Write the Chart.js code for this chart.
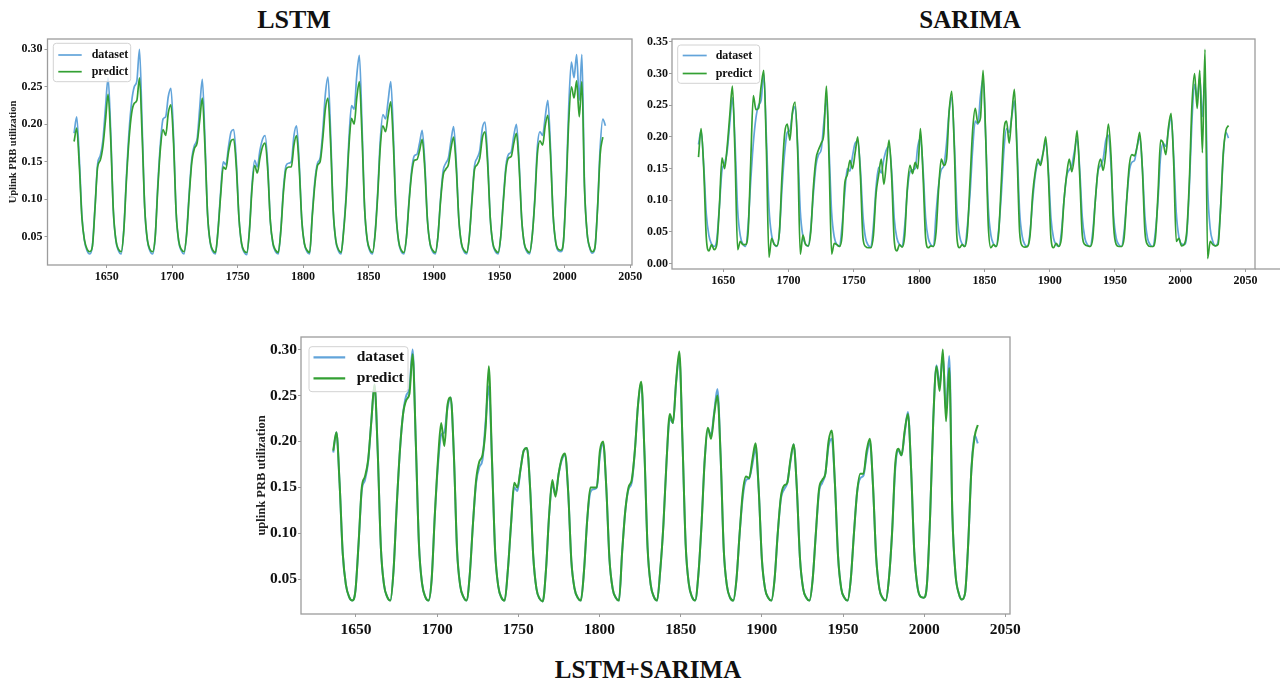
<!DOCTYPE html>
<html>
<head>
<meta charset="utf-8">
<script src="https://cdn.jsdelivr.net/npm/chart.js@4.4.1/dist/chart.umd.min.js"></script>
<style>
  body { margin: 0; width: 1280px; height: 684px; background: #fff; position: relative; overflow: hidden; }
  canvas { position: absolute; }
  .caption { position: absolute; font-family: "Liberation Serif", "Times New Roman", serif; font-weight: bold;
             font-size: 25px; line-height: 25px; color: #111; transform: translateX(-50%); white-space: nowrap; }
</style>
</head>
<body>
<div class="caption" style="left:294px; top:7px; font-size:26px">LSTM</div>
<div class="caption" style="left:970px; top:7px">SARIMA</div>
<div class="caption" style="left:648px; top:657px">LSTM+SARIMA</div>

<canvas id="lstmChart" width="645" height="262" style="left:0; top:30px"></canvas>
<canvas id="sarimaChart" width="640" height="262" style="left:640px; top:30px"></canvas>
<canvas id="hybridChart" width="790" height="330" style="left:240px; top:330px"></canvas>

<script>
// measured uplink PRB utilization, one sample every second hour of the test window
const trafficLoad = [
  0.188, 0.210, 0.155, 0.078, 0.044, 0.031, 0.027,
  0.038, 0.090, 0.147, 0.158, 0.178, 0.222, 0.262, 0.190, 0.085, 0.044, 0.031, 0.027,
  0.060, 0.130, 0.190, 0.230, 0.250, 0.258, 0.300, 0.200, 0.088, 0.045, 0.031, 0.027,
  0.050, 0.120, 0.175, 0.207, 0.210, 0.237, 0.248, 0.185, 0.082, 0.043, 0.031, 0.027,
  0.055, 0.110, 0.155, 0.172, 0.180, 0.222, 0.260, 0.180, 0.080, 0.042, 0.030, 0.027,
  0.060, 0.110, 0.150, 0.146, 0.170, 0.190, 0.193, 0.150, 0.075, 0.040, 0.029, 0.026,
  0.060, 0.120, 0.152, 0.143, 0.165, 0.180, 0.185, 0.145, 0.070, 0.040, 0.030, 0.027,
  0.060, 0.115, 0.145, 0.148, 0.150, 0.185, 0.198, 0.150, 0.072, 0.040, 0.030, 0.027,
  0.080, 0.125, 0.148, 0.155, 0.190, 0.240, 0.263, 0.190, 0.085, 0.044, 0.031, 0.027,
  0.060, 0.110, 0.180, 0.225, 0.220, 0.265, 0.292, 0.200, 0.088, 0.045, 0.031, 0.027,
  0.055, 0.110, 0.180, 0.213, 0.207, 0.232, 0.257, 0.185, 0.082, 0.043, 0.030, 0.027,
  0.050, 0.100, 0.140, 0.158, 0.160, 0.175, 0.192, 0.148, 0.072, 0.040, 0.030, 0.027,
  0.050, 0.100, 0.138, 0.148, 0.155, 0.178, 0.197, 0.150, 0.073, 0.040, 0.030, 0.027,
  0.050, 0.100, 0.145, 0.155, 0.165, 0.195, 0.203, 0.155, 0.075, 0.040, 0.030, 0.027,
  0.050, 0.100, 0.145, 0.160, 0.163, 0.185, 0.200, 0.152, 0.074, 0.040, 0.030, 0.027,
  0.050, 0.100, 0.170, 0.190, 0.185, 0.210, 0.232, 0.170, 0.080, 0.042, 0.031, 0.030,
  0.045, 0.120, 0.225, 0.283, 0.262, 0.293, 0.232, 0.293, 0.120, 0.055, 0.035, 0.028,
  0.035, 0.090, 0.170, 0.207, 0.198
];

const lstmForecast = [
  0.177, 0.195, 0.145, 0.075, 0.045, 0.033, 0.030,
  0.037, 0.088, 0.143, 0.152, 0.170, 0.205, 0.240, 0.180, 0.085, 0.045, 0.033, 0.030,
  0.058, 0.125, 0.180, 0.215, 0.228, 0.232, 0.262, 0.185, 0.088, 0.046, 0.033, 0.030,
  0.050, 0.115, 0.168, 0.193, 0.185, 0.215, 0.226, 0.175, 0.082, 0.044, 0.033, 0.030,
  0.053, 0.105, 0.150, 0.168, 0.175, 0.205, 0.235, 0.170, 0.080, 0.043, 0.032, 0.029,
  0.058, 0.105, 0.143, 0.140, 0.163, 0.178, 0.180, 0.142, 0.075, 0.041, 0.031, 0.029,
  0.058, 0.115, 0.145, 0.135, 0.155, 0.170, 0.175, 0.138, 0.070, 0.041, 0.032, 0.029,
  0.058, 0.110, 0.140, 0.143, 0.143, 0.172, 0.185, 0.142, 0.072, 0.041, 0.032, 0.029,
  0.077, 0.120, 0.145, 0.150, 0.180, 0.220, 0.235, 0.175, 0.085, 0.045, 0.033, 0.029,
  0.058, 0.105, 0.170, 0.208, 0.200, 0.235, 0.257, 0.185, 0.088, 0.046, 0.033, 0.029,
  0.053, 0.105, 0.170, 0.198, 0.190, 0.212, 0.230, 0.172, 0.082, 0.044, 0.032, 0.029,
  0.050, 0.097, 0.135, 0.152, 0.153, 0.165, 0.180, 0.140, 0.072, 0.041, 0.032, 0.029,
  0.050, 0.097, 0.132, 0.140, 0.146, 0.168, 0.183, 0.142, 0.073, 0.041, 0.032, 0.029,
  0.050, 0.097, 0.140, 0.146, 0.155, 0.182, 0.190, 0.147, 0.075, 0.041, 0.032, 0.029,
  0.050, 0.097, 0.140, 0.155, 0.157, 0.175, 0.188, 0.145, 0.074, 0.041, 0.032, 0.029,
  0.050, 0.097, 0.160, 0.178, 0.172, 0.198, 0.212, 0.160, 0.080, 0.043, 0.033, 0.032,
  0.045, 0.115, 0.205, 0.250, 0.235, 0.258, 0.210, 0.257, 0.115, 0.055, 0.036, 0.030,
  0.036, 0.088, 0.160, 0.183, null
];

const sarimaForecast = [
  0.168, 0.213, 0.150, 0.040, 0.020, 0.030, 0.022,
  0.030, 0.090, 0.167, 0.150, 0.185, 0.235, 0.280, 0.170, 0.022, 0.035, 0.030, 0.030,
  0.050, 0.160, 0.265, 0.243, 0.245, 0.280, 0.305, 0.180, 0.010, 0.040, 0.030, 0.028,
  0.050, 0.140, 0.205, 0.220, 0.195, 0.240, 0.255, 0.175, 0.015, 0.045, 0.030, 0.028,
  0.050, 0.120, 0.165, 0.180, 0.190, 0.205, 0.280, 0.165, 0.015, 0.032, 0.030, 0.027,
  0.045, 0.125, 0.140, 0.163, 0.150, 0.175, 0.200, 0.140, 0.040, 0.027, 0.025, 0.025,
  0.045, 0.110, 0.140, 0.165, 0.125, 0.160, 0.195, 0.135, 0.035, 0.020, 0.030, 0.026,
  0.045, 0.120, 0.155, 0.142, 0.160, 0.150, 0.213, 0.140, 0.040, 0.025, 0.028, 0.027,
  0.050, 0.120, 0.165, 0.155, 0.165, 0.240, 0.272, 0.180, 0.040, 0.025, 0.030, 0.027,
  0.050, 0.130, 0.210, 0.245, 0.222, 0.230, 0.305, 0.200, 0.060, 0.025, 0.030, 0.027,
  0.050, 0.130, 0.210, 0.225, 0.190, 0.235, 0.275, 0.175, 0.050, 0.028, 0.026, 0.027,
  0.045, 0.110, 0.145, 0.165, 0.155, 0.175, 0.200, 0.140, 0.040, 0.025, 0.032, 0.027,
  0.040, 0.100, 0.140, 0.165, 0.145, 0.170, 0.210, 0.140, 0.045, 0.030, 0.028, 0.027,
  0.040, 0.100, 0.148, 0.165, 0.147, 0.175, 0.220, 0.170, 0.060, 0.030, 0.027, 0.027,
  0.040, 0.100, 0.155, 0.172, 0.170, 0.185, 0.207, 0.150, 0.050, 0.030, 0.027, 0.027,
  0.040, 0.110, 0.195, 0.190, 0.172, 0.215, 0.237, 0.160, 0.035, 0.040, 0.028, 0.030,
  0.050, 0.130, 0.250, 0.300, 0.245, 0.305, 0.175, 0.338, 0.008, 0.035, 0.030, 0.028,
  0.030, 0.090, 0.175, 0.210, 0.218
];

const hybridForecast = [
  0.190, 0.210, 0.155, 0.078, 0.044, 0.031, 0.027,
  0.038, 0.090, 0.150, 0.162, 0.180, 0.222, 0.262, 0.190, 0.085, 0.044, 0.031, 0.027,
  0.060, 0.130, 0.190, 0.230, 0.245, 0.252, 0.295, 0.200, 0.088, 0.045, 0.031, 0.027,
  0.050, 0.120, 0.180, 0.220, 0.195, 0.240, 0.248, 0.185, 0.082, 0.043, 0.031, 0.027,
  0.055, 0.110, 0.158, 0.178, 0.185, 0.215, 0.282, 0.180, 0.080, 0.042, 0.030, 0.027,
  0.060, 0.110, 0.155, 0.150, 0.170, 0.190, 0.193, 0.150, 0.075, 0.040, 0.029, 0.026,
  0.060, 0.120, 0.158, 0.140, 0.165, 0.182, 0.187, 0.145, 0.070, 0.040, 0.030, 0.027,
  0.060, 0.115, 0.150, 0.150, 0.150, 0.190, 0.200, 0.150, 0.072, 0.040, 0.030, 0.027,
  0.080, 0.125, 0.150, 0.158, 0.190, 0.240, 0.265, 0.190, 0.085, 0.044, 0.031, 0.027,
  0.060, 0.110, 0.180, 0.230, 0.220, 0.265, 0.298, 0.200, 0.088, 0.045, 0.031, 0.027,
  0.055, 0.110, 0.180, 0.215, 0.203, 0.230, 0.250, 0.185, 0.082, 0.043, 0.030, 0.027,
  0.050, 0.100, 0.145, 0.162, 0.160, 0.180, 0.198, 0.148, 0.072, 0.040, 0.030, 0.027,
  0.050, 0.100, 0.140, 0.152, 0.155, 0.180, 0.197, 0.150, 0.073, 0.040, 0.030, 0.027,
  0.050, 0.100, 0.148, 0.158, 0.165, 0.200, 0.212, 0.155, 0.075, 0.040, 0.030, 0.027,
  0.050, 0.100, 0.145, 0.165, 0.165, 0.190, 0.203, 0.152, 0.074, 0.040, 0.030, 0.027,
  0.050, 0.100, 0.175, 0.192, 0.185, 0.212, 0.230, 0.170, 0.080, 0.042, 0.031, 0.030,
  0.045, 0.120, 0.225, 0.282, 0.255, 0.300, 0.222, 0.280, 0.120, 0.055, 0.035, 0.028,
  0.035, 0.090, 0.170, 0.205, 0.218
];

// first and last hour index of each test window
const lstmHours = [1625, 2031];
const sarimaHours = [1631, 2037];
const hybridHours = [1636, 2033];

const hourTicks = [1650, 1700, 1750, 1800, 1850, 1900, 1950, 2000, 2050];
const lstmUtilTicks = [0.05, 0.10, 0.15, 0.20, 0.25, 0.30];
const sarimaUtilTicks = [0.00, 0.05, 0.10, 0.15, 0.20, 0.25, 0.30, 0.35];
const hybridUtilTicks = [0.05, 0.10, 0.15, 0.20, 0.25, 0.30];

const serif = '"Liberation Serif", "Times New Roman", serif';
const blue = '#62a4da';
const green = '#33a033';

// grey box around the plotting area, like matplotlib spines
const frameBox = {
  id: 'frameBox',
  afterDraw(chart, args, opts) {
    const { ctx, chartArea: a } = chart;
    ctx.save();
    ctx.strokeStyle = opts.color;
    ctx.lineWidth = opts.width;
    ctx.strokeRect(a.left, a.top, a.right - a.left, a.bottom - a.top);
    if (opts.tail) {
      ctx.beginPath();
      ctx.moveTo(a.right, a.bottom);
      ctx.lineTo(a.right + opts.tail, a.bottom);
      ctx.stroke();
    }
    ctx.restore();
  }
};

// legend box drawn inside the top-left corner of the plot
const insideLegend = {
  id: 'insideLegend',
  afterDraw(chart, args, o) {
    const { ctx, chartArea: a } = chart;
    const left = a.left + o.x, top = a.top + o.y;
    ctx.save();
    ctx.beginPath();
    ctx.roundRect(left, top, o.w, o.h, 3);
    ctx.fillStyle = 'rgba(255,255,255,0.8)';
    ctx.fill();
    ctx.strokeStyle = '#d2d2d2';
    ctx.lineWidth = 1;
    ctx.stroke();
    ctx.font = 'bold ' + o.size + 'px ' + serif;
    ctx.textBaseline = 'middle';
    ctx.fillStyle = '#111';
    chart.data.datasets.forEach((ds, i) => {
      const rowY = top + o.row + i * o.gap;
      ctx.beginPath();
      ctx.moveTo(left + o.lineX, rowY);
      ctx.lineTo(left + o.lineX + o.lineLen, rowY);
      ctx.strokeStyle = ds.borderColor;
      ctx.lineWidth = o.lineWidth;
      ctx.stroke();
      ctx.fillText(ds.label, left + o.textX, rowY);
    });
    ctx.restore();
  }
};

function buildChart(canvasId, s) {
  const count = trafficLoad.length;
  const step = (s.hours[1] - s.hours[0]) / (count - 1);
  const hours = trafficLoad.map((_, i) => s.hours[0] + i * step);
  const toPoints = values => values.map((v, i) => ({ x: hours[i], y: v }));

  // autoscale with 5% margins on both axes
  const seen = trafficLoad.concat(s.forecast).filter(v => v !== null);
  const yLow = Math.min(...seen), yHigh = Math.max(...seen);
  const yPad = (yHigh - yLow) * 0.05;
  const xPad = (s.hours[1] - s.hours[0]) * 0.05;
  const tickFont = { family: serif, weight: 'bold', size: s.tickSize };

  const line = (label, values, color, order) => ({
    label, data: toPoints(values), borderColor: color, backgroundColor: color,
    borderWidth: s.lineWidth, pointRadius: 0, cubicInterpolationMode: 'monotone', order
  });

  return new Chart(document.getElementById(canvasId), {
    type: 'line',
    data: {
      datasets: [
        line('dataset', trafficLoad, blue, 1),
        line('predict', s.forecast, green, 0)
      ]
    },
    options: {
      responsive: false,
      animation: false,
      devicePixelRatio: 1,
      layout: { padding: { top: s.padTop, right: s.padRight, left: 0, bottom: 0 } },
      plugins: {
        legend: { display: false },
        tooltip: { enabled: false },
        frameBox: { color: '#9c9c9c', width: 1.3, tail: s.tail || 0 },
        insideLegend: s.legend
      },
      scales: {
        x: {
          type: 'linear',
          min: s.hours[0] - xPad,
          max: s.hours[1] + xPad,
          afterBuildTicks: scale => { scale.ticks = hourTicks.map(v => ({ value: v })); },
          afterFit: scale => { scale.height = s.xAxisHeight; scale.paddingLeft = 0; scale.paddingRight = 0; },
          grid: { drawOnChartArea: false, tickLength: 3, color: '#9c9c9c' },
          border: { display: false },
          ticks: { font: tickFont, color: '#111', padding: s.xTickPad, autoSkip: false, maxRotation: 0,
                   callback: v => String(v) }
        },
        y: {
          min: yLow - yPad,
          max: yHigh + yPad,
          afterBuildTicks: scale => { scale.ticks = s.yTicks.map(v => ({ value: v })); },
          afterFit: scale => { scale.width = s.yAxisWidth; scale.paddingTop = 0; scale.paddingBottom = 0; },
          grid: { drawOnChartArea: false, tickLength: 3, color: '#9c9c9c' },
          border: { display: false },
          ticks: { font: tickFont, color: '#111', padding: s.yTickPad, autoSkip: false,
                   callback: v => v.toFixed(2) },
          title: {
            display: !!s.yTitle,
            text: s.yTitle || '',
            color: '#222',
            font: { family: serif, weight: 'bold', size: s.titleSize },
            padding: { top: s.titlePad, bottom: 0 }
          }
        }
      }
    },
    plugins: [frameBox, insideLegend]
  });
}

buildChart('lstmChart', {
  hours: lstmHours, forecast: lstmForecast, yTicks: lstmUtilTicks,
  padTop: 9, padRight: 13, yAxisWidth: 47.5, xAxisHeight: 27,
  tickSize: 12, xTickPad: 2, yTickPad: 2, lineWidth: 1.7,
  yTitle: 'Uplink PRB utilization', titleSize: 10.5, titlePad: 6.5,
  legend: { x: 5.8, y: 4.3, w: 77.4, h: 38.4, lineX: 5, lineLen: 23.4, textX: 38.4,
            row: 11.7, gap: 16.7, size: 12, lineWidth: 1.7 }
});

buildChart('sarimaChart', {
  hours: sarimaHours, forecast: sarimaForecast, yTicks: sarimaUtilTicks,
  padTop: 9, padRight: 25, yAxisWidth: 32, xAxisHeight: 23,
  tickSize: 12, xTickPad: 2, yTickPad: 1, lineWidth: 1.7, tail: 25,
  legend: { x: 5.7, y: 6, w: 82, h: 38.3, lineX: 5, lineLen: 24, textX: 38,
            row: 10.5, gap: 18, size: 12, lineWidth: 1.7 }
});

buildChart('hybridChart', {
  hours: hybridHours, forecast: hybridForecast, yTicks: hybridUtilTicks,
  padTop: 7, padRight: 20, yAxisWidth: 61, xAxisHeight: 46,
  tickSize: 15.5, xTickPad: 4, yTickPad: 1, lineWidth: 2,
  yTitle: 'uplink PRB utilization', titleSize: 12.5, titlePad: 14,
  legend: { x: 8, y: 9.7, w: 99, h: 45, lineX: 4.5, lineLen: 31.7, textX: 47.7,
            row: 10.6, gap: 21, size: 15.5, lineWidth: 2.2 }
});
</script>
</body>
</html>
